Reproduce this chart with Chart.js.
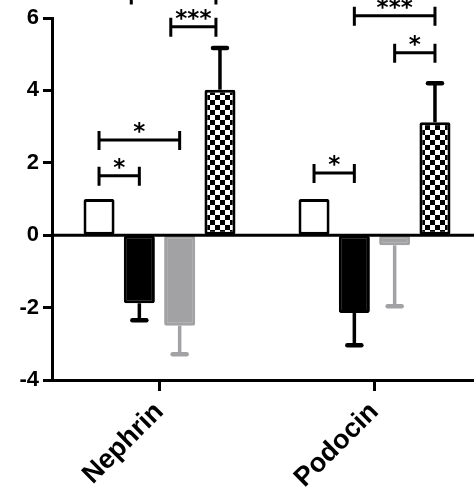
<!DOCTYPE html>
<html><head><meta charset="utf-8">
<script src="https://cdn.jsdelivr.net/npm/chart.js@4"></script>
<style>html,body{margin:0;padding:0;overflow:hidden;background:#fff}#wrap{position:relative;width:500px;height:490px}</style>
</head><body><div id="wrap"><canvas id="c" width="500" height="490"></canvas></div>
<script>
const categories = ['Nephrin', 'Podocin'];
const seriesNames = ['Group 1', 'Group 2', 'Group 3', 'Group 4'];
const whiteValues = [1, 1];
const blackValues = [-1.88, -2.15];
const grayValues = [-2.5, -0.28];
const checkValues = [4.02, 3.12];
const whiteErr = [0, 0];
const blackErr = [0.47, 0.89];
const grayErr = [0.79, 1.68];
const checkErr = [1.15, 1.08];
const yTicks = [-4, -2, 0, 2, 4, 6];
// significance brackets: category index, from bar, to bar (bar index, fractional allowed), level, label
const bracketCategory = [0, 0, 0, 0, 1, 1, 1];
const bracketFrom = [0, 0, 1.78, 0.8, 0, 2, 1];
const bracketTo = [1, 2, 2.9, 2.9, 1, 3, 3];
const bracketLevel = [1.64, 2.63, 5.76, 6.65, 1.72, 5.04, 6.06];
const bracketLabel = ['*', '*', '***', '*', '*', '*', '***'];

const GRAY = '#a2a2a4';
function checker() {
  const p = document.createElement('canvas');
  p.width = 10; p.height = 10;
  const g = p.getContext('2d');
  g.fillStyle = '#fff'; g.fillRect(0, 0, 10, 10);
  g.fillStyle = '#000'; g.fillRect(0, 0, 5, 5); g.fillRect(5, 5, 5, 5);
  return document.getElementById('c').getContext('2d').createPattern(p, 'repeat');
}

const errors = [whiteErr, blackErr, grayErr, checkErr];

const errorBarPlugin = {
  id: 'errorBars',
  afterDatasetsDraw(chart) {
    const ctx = chart.ctx;
    const ys = chart.scales.y;
    ctx.save();
    chart.data.datasets.forEach((ds, i) => {
      const meta = chart.getDatasetMeta(i);
      const errs = errors[i];
      meta.data.forEach((el, j) => {
        const v = ds.data[j];
        const e = errs[j];
        if (!e) return;
        const sgn = v >= 0 ? 1 : -1;
        const y0 = el.y;
        const y1 = ys.getPixelForValue(v + sgn * e);
        ctx.strokeStyle = ds.borderColor;
        ctx.lineWidth = 3.5;
        ctx.lineCap = 'butt';
        ctx.beginPath(); ctx.moveTo(el.x, y0); ctx.lineTo(el.x, y1); ctx.stroke();
        ctx.lineWidth = 4.5;
        ctx.lineCap = 'round';
        ctx.beginPath(); ctx.moveTo(el.x - 7, y1); ctx.lineTo(el.x + 7, y1); ctx.stroke();
      });
    });
    // zero line
    const y0 = ys.getPixelForValue(0);
    ctx.strokeStyle = '#000'; ctx.lineWidth = 3; ctx.lineCap = 'butt';
    ctx.beginPath(); ctx.moveTo(chart.chartArea.left, y0); ctx.lineTo(chart.chartArea.right, y0); ctx.stroke();
    // brackets
    function barX(cat, f) {
      const a = Math.floor(f), b = Math.min(3, Math.ceil(f));
      const xa = chart.getDatasetMeta(a).data[cat].x;
      const xb = chart.getDatasetMeta(b).data[cat].x;
      return xa + (f - a) * (xb - xa);
    }
    ctx.font = 'bold 23px "DejaVu Sans"';
    ctx.fillStyle = '#000';
    ctx.textAlign = 'center';
    ctx.textBaseline = 'alphabetic';
    for (let k = 0; k < bracketLevel.length; k++) {
      const xa = barX(bracketCategory[k], bracketFrom[k]);
      const xb = barX(bracketCategory[k], bracketTo[k]);
      const y = ys.getPixelForValue(bracketLevel[k]);
      ctx.lineWidth = 3; ctx.lineCap = 'butt';
      ctx.beginPath();
      ctx.moveTo(xa, y); ctx.lineTo(xb, y);
      ctx.moveTo(xa, y - 9); ctx.lineTo(xa, y + 10);
      ctx.moveTo(xb, y - 9); ctx.lineTo(xb, y + 10);
      ctx.stroke();
      const m = ctx.measureText(bracketLabel[k]);
      const target = y - 12;
      const base = target + (m.actualBoundingBoxAscent - m.actualBoundingBoxDescent) / 2;
      ctx.fillText(bracketLabel[k], (xa + xb) / 2, base);
    }
    ctx.restore();
  }
};

const chart = new Chart(document.getElementById('c'), {
  type: 'bar',
  data: {
    labels: categories,
    datasets: [
      { label: seriesNames[0], data: whiteValues, backgroundColor: '#fff', borderColor: '#000' },
      { label: seriesNames[1], data: blackValues, backgroundColor: '#000', borderColor: '#000' },
      { label: seriesNames[2], data: grayValues, backgroundColor: GRAY, borderColor: GRAY },
      { label: seriesNames[3], data: checkValues, backgroundColor: checker(), borderColor: '#000' }
    ]
  },
  options: {
    responsive: false,
    animation: false,
    devicePixelRatio: 1,
    layout: { padding: { top: 18, right: 18, left: 0, bottom: 0 } },
    datasets: { bar: { borderWidth: 3, borderSkipped: false, borderRadius: 2, barPercentage: 0.77, categoryPercentage: 0.75 } },
    plugins: { legend: { display: false }, tooltip: { enabled: false } },
    scales: {
      x: {
        grid: { display: true, drawOnChartArea: false, offset: false, tickLength: 11, tickWidth: 3, tickColor: '#000' },
        border: { display: true, color: '#000', width: 3 },
        ticks: { color: '#000', font: { family: '"Liberation Sans", Arial', size: 27, weight: 'bold' }, minRotation: 45, maxRotation: 45, padding: 5 },
        afterFit(s) { s.height = 110; }
      },
      y: {
        min: -4, max: 6,
        afterBuildTicks(s) { s.ticks = yTicks.map(v => ({ value: v })); },
        grid: { display: true, drawOnChartArea: false, tickLength: 9, tickWidth: 3, tickColor: '#000' },
        border: { display: true, color: '#000', width: 3 },
        ticks: { color: '#000', font: { family: '"Liberation Sans", Arial', size: 22, weight: 'bold' }, padding: 4 },
        afterFit(s) { s.width = 52; }
      }
    }
  },
  plugins: [errorBarPlugin]
});
</script></body></html>
